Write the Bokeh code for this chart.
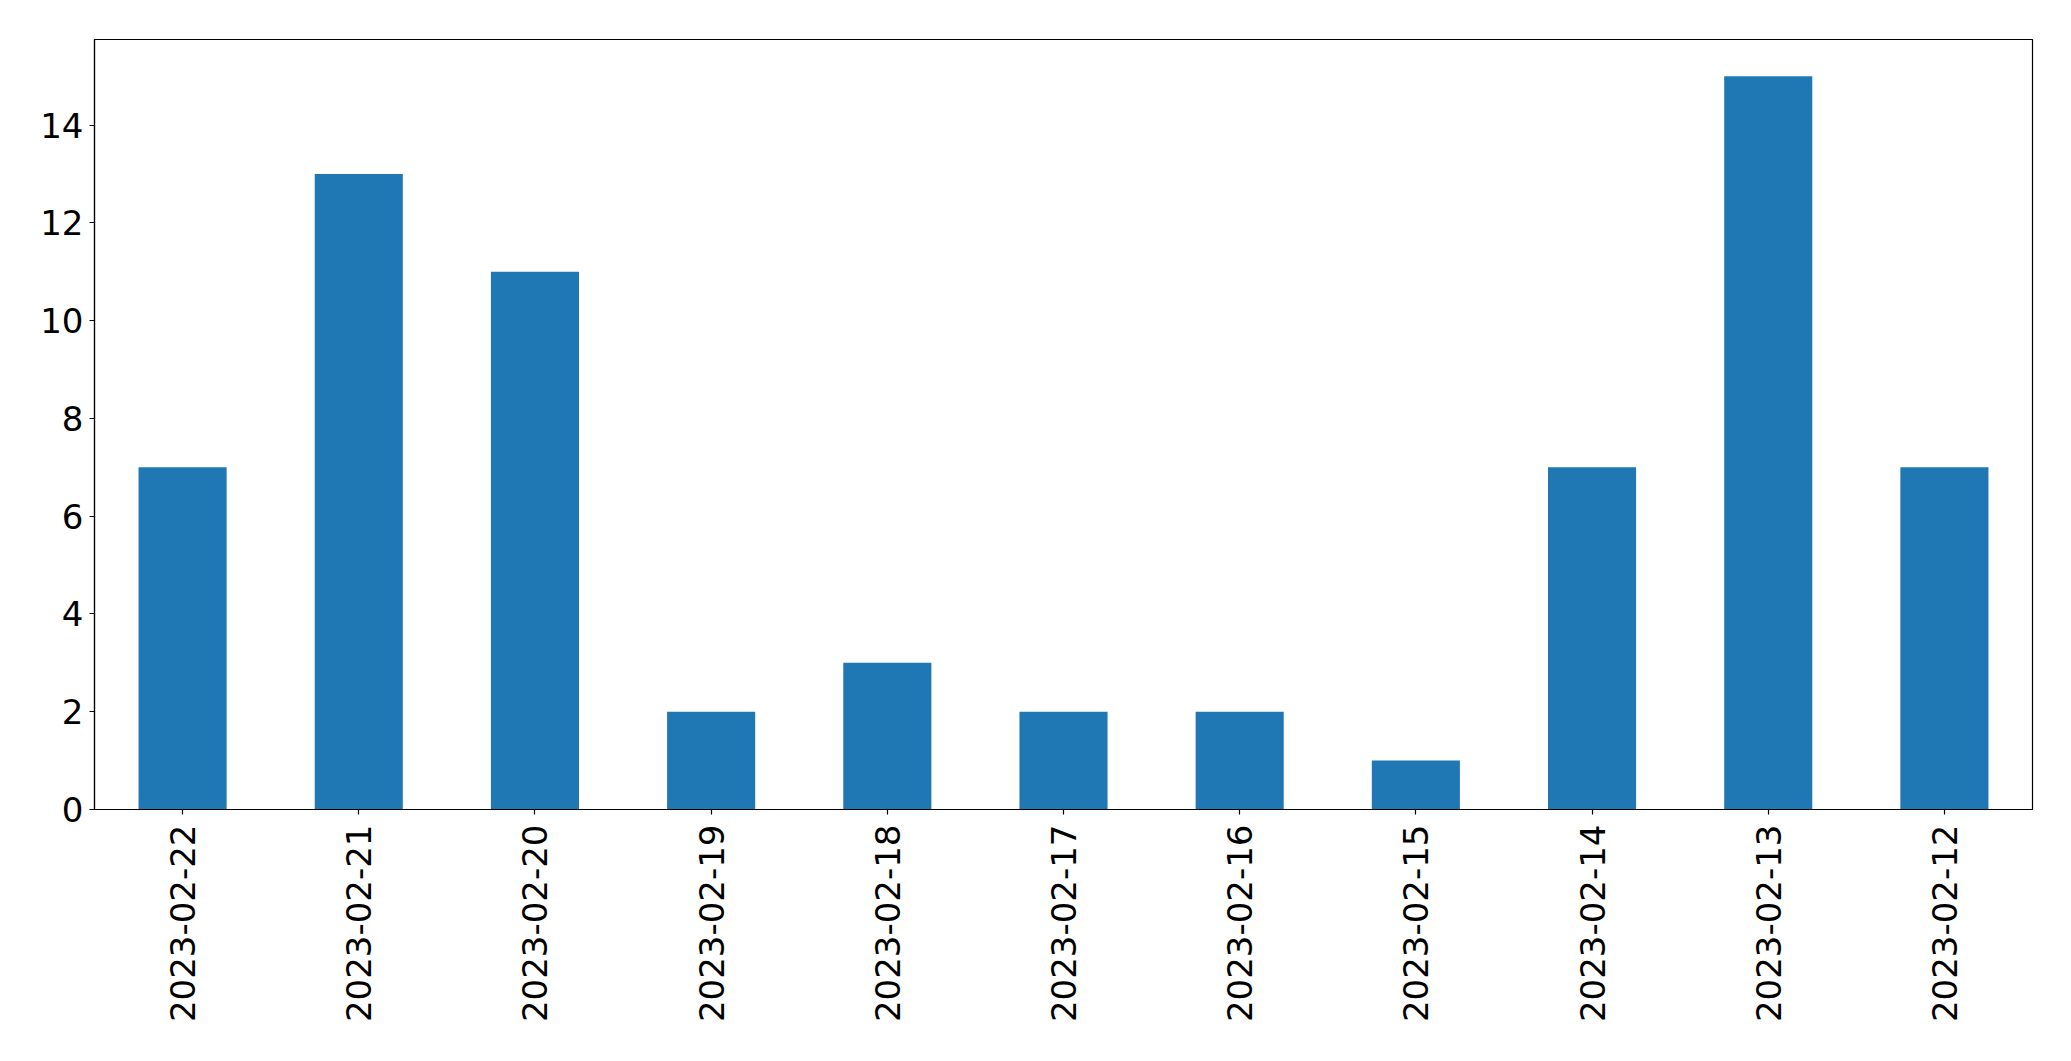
import math
from bokeh.plotting import figure
from bokeh.models import FactorRange, Range1d, FixedTicker, ColumnDataSource
from bokeh.embed import file_html
from bokeh.resources import INLINE

dates = ["2023-02-22", "2023-02-21", "2023-02-20", "2023-02-19", "2023-02-18",
         "2023-02-17", "2023-02-16", "2023-02-15", "2023-02-14", "2023-02-13",
         "2023-02-12"]
counts = [7, 13, 11, 2, 3, 2, 2, 1, 7, 15, 7]
y_ticks = [0, 2, 4, 6, 8, 10, 12, 14]

src = ColumnDataSource(dict(x=dates, top=counts))

p = figure(x_range=FactorRange(factors=dates, range_padding=0),
           y_range=Range1d(0, max(counts) * 1.05),
           frame_width=1938, frame_height=770,
           min_border_left=94, min_border_top=39, min_border_right=23, min_border_bottom=236,
           output_backend="svg", toolbar_location=None)

p.vbar(x="x", top="top", width=0.5, source=src, color="#1f77b4", line_color=None)

p.xgrid.visible = False
p.ygrid.visible = False
p.outline_line_color = "black"
p.outline_line_width = 1.2
p.outline_line_alpha = 1.0
p.background_fill_color = "white"
p.border_fill_color = "white"

for ax in (p.xaxis[0], p.yaxis[0]):
    ax.axis_line_color = "black"
    ax.axis_line_width = 1.2
    ax.major_tick_line_color = "black"
    ax.major_tick_line_width = 1.2
    ax.major_tick_out = 5
    ax.major_tick_in = 0
    ax.minor_tick_line_color = None
    ax.major_label_text_font = "DejaVu Sans"
    ax.major_label_text_font_size = "34px"
    ax.major_label_text_color = "black"

p.yaxis[0].ticker = FixedTicker(ticks=y_ticks)
p.yaxis[0].major_label_standoff = 6
p.xaxis[0].major_label_orientation = math.pi / 2
p.xaxis[0].major_label_standoff = 10

open("out.html", "w").write(file_html(p, INLINE))
